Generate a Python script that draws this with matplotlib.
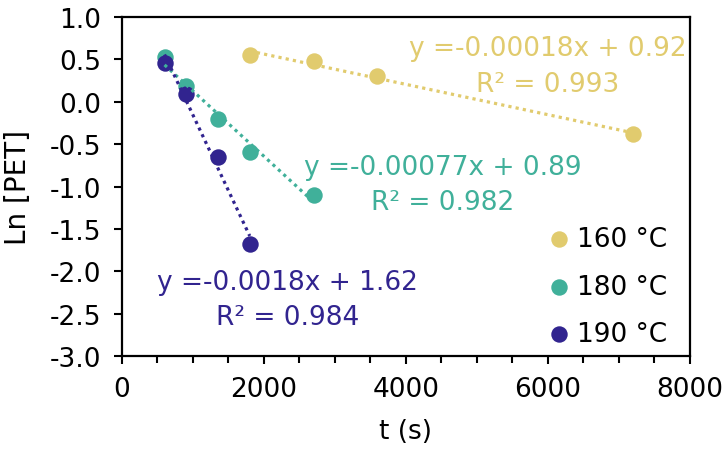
import numpy as np
import matplotlib.pyplot as plt

plt.rcParams['font.family'] = ['DejaVu Sans']

# data
t_160 = [1800, 2700, 3600, 7200]
ln_160 = [0.55, 0.48, 0.30, -0.38]
t_180 = [600, 900, 1350, 1800, 2700]
ln_180 = [0.53, 0.19, -0.20, -0.59, -1.10]
t_190 = [600, 900, 1350, 1800]
ln_190 = [0.46, 0.09, -0.65, -1.68]

labels = ['160 °C', '180 °C', '190 °C']
colors = ['#E1CB6E', '#40B09A', '#31248F']
eqs = ['y =-0.00018x + 0.92', 'y =-0.00077x + 0.89', 'y =-0.0018x + 1.62']
r2s = ['R² = 0.993', 'R² = 0.982', 'R² = 0.984']
# (x centre, baseline line 1, baseline line 2)
eq_pos = [(6000, 0.55, 0.13), (4520, -0.85, -1.26), (2330, -2.21, -2.62)]

fig = plt.figure(figsize=(7.26, 4.52), dpi=100)
ax = fig.add_axes([0.168, 0.210, 0.782, 0.750])

series = [(t_160, ln_160), (t_180, ln_180), (t_190, ln_190)]
for (t, y), c, lab, eq, r2, pos in zip(series, colors, labels, eqs, r2s, eq_pos):
    t = np.array(t, float)
    y = np.array(y, float)
    ax.scatter(t, y, s=140, color=c, label=lab, zorder=2, linewidths=0)
    k, b = np.polyfit(t, y, 1)
    ax.plot(t, k*t + b, color=c, lw=2.3, linestyle=(0, (1, 1.3)), zorder=3)
    ax.text(pos[0], pos[1], eq, color=c, fontsize=19, ha='center', va='baseline')
    ax.text(pos[0], pos[2], r2, color=c, fontsize=19, ha='center', va='baseline')

ax.set_xlim(0, 8000)
ax.set_ylim(-3.0, 1.0)
ax.set_xticks(np.arange(0, 8001, 2000))
ax.set_xticks(np.arange(0, 8001, 500), minor=True)
ax.set_yticks(np.arange(-3.0, 1.01, 0.5))
ax.yaxis.set_major_formatter(plt.FormatStrFormatter('%.1f'))
ax.tick_params(axis='both', which='major', labelsize=19, width=1.5, length=6, direction='out')
ax.tick_params(axis='y', which='major', pad=9)
ax.tick_params(axis='x', which='major', pad=8)
ax.tick_params(axis='x', which='minor', width=1.5, length=5, direction='out')
for sp in ax.spines.values():
    sp.set_linewidth(1.6)

ax.set_xlabel('t (s)', fontsize=19, labelpad=12)
ax.set_ylabel('Ln [PET]', fontsize=20)
ax.yaxis.set_label_coords(-0.158, 0.5)

leg = ax.legend(loc='lower right', frameon=False, fontsize=19, handletextpad=0.2,
                handlelength=1.0, markerscale=1.0, labelspacing=0.82,
                borderaxespad=0.0, bbox_to_anchor=(0.979, -0.005))

fig.savefig('out.png', dpi=100)
